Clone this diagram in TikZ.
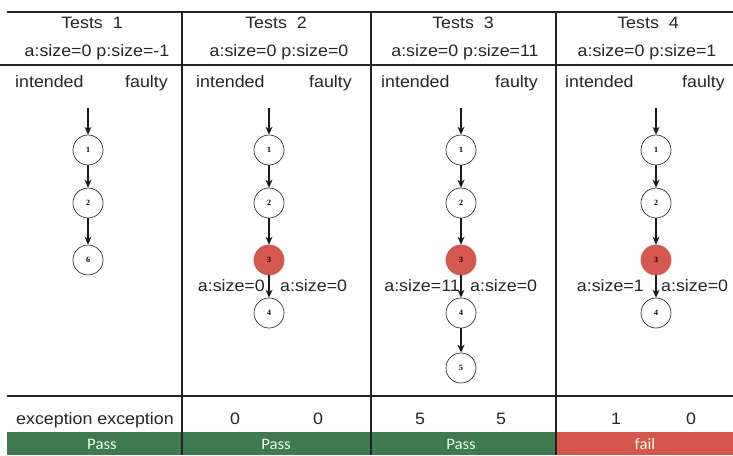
\documentclass[tikz,border=0pt]{standalone}
\usepackage{fontspec}
\setmainfont{Liberation Sans}[FakeStretch=1.08]
\newfontfamily\barfont{Carlito}[FakeStretch=1.05]
\newfontfamily\numfont{Liberation Serif}
\usetikzlibrary{arrows.meta}
\definecolor{gridline}{RGB}{35,35,35}
\definecolor{passgreen}{RGB}{62,122,78}
\definecolor{failred}{RGB}{214,86,78}
\definecolor{hotnode}{RGB}{212,88,80}
\tikzset{
  x=1pt, y=-1pt,
  txt/.style={font=\fontsize{16.5}{16.5}\selectfont, inner sep=0pt, text=black!85},
  sep/.style={draw=gridline, line width=1.6pt},
  state/.style={circle, draw=black!80, line width=0.7pt, minimum size=30pt, inner sep=0pt,
                font=\numfont\bfseries\fontsize{8}{8}\selectfont, fill=white},
  hot/.style={state, draw=hotnode, fill=hotnode},
  flow/.style={-{Stealth[length=8pt,width=7pt]}, line width=1.6pt, draw=black!90},
  verdict/.style={font=\barfont\fontsize{16}{16}\selectfont, text=white!92!green, inner sep=0pt},
}
\begin{document}
\begin{tikzpicture}
\useasboundingbox (0,0) rectangle (733,455);
\fill[white] (0,0) rectangle (733,455);

% verdict bars
\fill[passgreen] (7,432) rectangle (556,455);
\fill[failred] (556,432) rectangle (733,455);

% grid
\draw[sep] (7,12) -- (733,12);
\draw[sep] (0,65) -- (733,65);
\draw[sep] (7,396) -- (733,396);
\foreach \xx in {182,371,556} \draw[sep] (\xx,12) -- (\xx,455);

% headers
\node[txt, anchor=base] (h1) at (92,28) {Tests\ \ 1};
\node[txt, anchor=base] (h2) at (276,28) {Tests\ \ 2};
\node[txt, anchor=base] (h3) at (463,28) {Tests\ \ 3};
\node[txt, anchor=base] (h4) at (648,28) {Tests\ \ 4};
\node[txt, anchor=base] (p1) at (97,56) {a:size=0 p:size=-1};
\node[txt, anchor=base] (p2) at (279,56) {a:size=0 p:size=0};
\node[txt, anchor=base] (p3) at (465,56) {a:size=0 p:size=11};
\node[txt, anchor=base] (p4) at (647,56) {a:size=0 p:size=1};

% column titles
\foreach \xl/\xr/\c in {15/168/1, 196/352/2, 381/538/3, 565/725/4}{
  \node[txt, anchor=base west] (int\c) at (\xl,87) {intended};
  \node[txt, anchor=base east] (fau\c) at (\xr,87) {faulty};
}

% test 1
\coordinate (s1) at (88,108);
\node[state] (a1) at (88,150) {1};
\node[state] (a2) at (88,203) {2};
\node[state] (a6) at (88,260) {6};
\draw[flow] (s1) -- (a1);
\draw[flow] (a1) -- (a2);
\draw[flow] (a2) -- (a6);

% test 2
\coordinate (s2) at (269,108);
\node[state] (b1) at (269,150) {1};
\node[state] (b2) at (269,203) {2};
\node[hot] (b3) at (269,260) {3};
\node[state] (b4) at (269,313) {4};
\draw[flow] (s2) -- (b1);
\draw[flow] (b1) -- (b2);
\draw[flow] (b2) -- (b3);
\draw[flow] (b3) -- (b4);
\node[txt, anchor=base east] (bl) at (265,291) {a:size=0};
\node[txt, anchor=base west] (br) at (280,291) {a:size=0};

% test 3
\coordinate (s3) at (461,108);
\node[state] (c1) at (461,150) {1};
\node[state] (c2) at (461,203) {2};
\node[hot] (c3) at (461,260) {3};
\node[state] (c4) at (461,313) {4};
\node[state] (c5) at (461,368) {5};
\draw[flow] (s3) -- (c1);
\draw[flow] (c1) -- (c2);
\draw[flow] (c2) -- (c3);
\draw[flow] (c3) -- (c4);
\draw[flow] (c4) -- (c5);
\node[txt, anchor=base east] (cl) at (460,291) {a:size=11};
\node[txt, anchor=base west] (cr) at (470,291) {a:size=0};

% test 4
\coordinate (s4) at (656,108);
\node[state] (d1) at (656,150) {1};
\node[state] (d2) at (656,203) {2};
\node[hot] (d3) at (656,260) {3};
\node[state] (d4) at (656,313) {4};
\draw[flow] (s4) -- (d1);
\draw[flow] (d1) -- (d2);
\draw[flow] (d2) -- (d3);
\draw[flow] (d3) -- (d4);
\node[txt, anchor=base east] (dl) at (644,291) {a:size=1};
\node[txt, anchor=base west] (dr) at (661,291) {a:size=0};

% outcomes
\node[txt, anchor=base] (e1) at (95,424) {exception exception};
\node[txt, anchor=base] (e2a) at (235,424) {0};
\node[txt, anchor=base] (e2b) at (318,424) {0};
\node[txt, anchor=base] (e3a) at (420,424) {5};
\node[txt, anchor=base] (e3b) at (501,424) {5};
\node[txt, anchor=base] (e4a) at (616,424) {1};
\node[txt, anchor=base] (e4b) at (691,424) {0};

% verdicts
\node[verdict] (v1) at (102,444) {Pass};
\node[verdict] (v2) at (276,444) {Pass};
\node[verdict] (v3) at (461,444) {Pass};
\node[verdict] (v4) at (645,444) {fail};
\end{tikzpicture}
\end{document}
